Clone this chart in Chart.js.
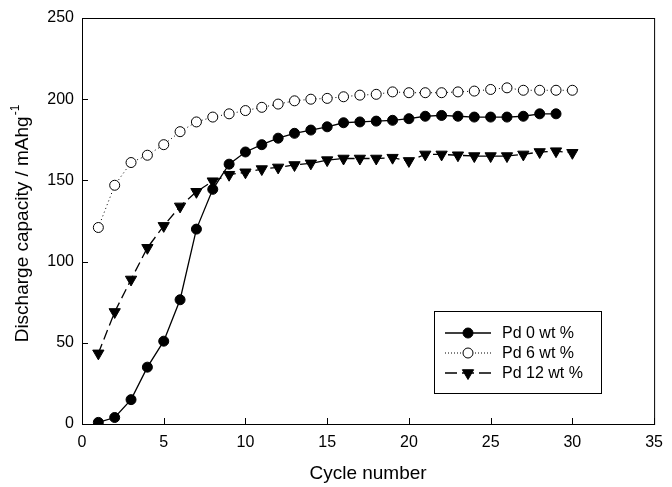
<!DOCTYPE html>
<html>
<head>
<meta charset="utf-8">
<script src="https://cdn.jsdelivr.net/npm/chart.js@4.4.0/dist/chart.umd.min.js"></script>
<style>
  html, body { margin: 0; padding: 0; background: #fff; }
  .chart-container { width: 672px; height: 487px; }
</style>
</head>
<body>
<div class="chart-container">
  <canvas id="chart"></canvas>
</div>
<script>
// values
const cycles = [1, 2, 3, 4, 5, 6, 7, 8, 9, 10, 11, 12, 13, 14, 15,
    16, 17, 18, 19, 20, 21, 22, 23, 24, 25, 26, 27, 28, 29, 30];
const pd0 = [1, 4, 15, 35, 51, 76.5, 120, 144.5, 160, 167.5, 172, 176, 179, 181, 183,
    185.5, 186, 186.5, 187, 188, 189.5, 190, 189.5, 189, 189, 189, 189.5, 191, 191];
const pd6 = [121, 147, 161, 165.5, 172, 180, 186, 189, 191, 193, 195, 197, 199, 200, 200.5,
    201.5, 202.5, 203, 204.5, 204, 204, 204, 204.5, 205, 206, 207, 205.5, 205.5, 205.5, 205.5];
const pd12 = [43.5, 69, 89, 108.5, 122, 134, 143, 149.5, 153.5, 155, 157, 158, 159.5, 160.5, 162.5,
    163.5, 163.5, 163.5, 164, 162, 166, 166, 165.5, 165, 165, 165, 166, 167.5, 168, 167];
const xTicks = [0, 5, 10, 15, 20, 25, 30, 35];
const yTicks = [0, 50, 100, 150, 200, 250];

const FONT = "'Liberation Sans', Arial, sans-serif";

const toPoints = (vals) => vals.map((v, i) => ({ x: cycles[i], y: v }));

// frame, inward ticks, y title with a real superscript, and a legend with line samples
const framePlugin = {
    id: "frame",
    afterDraw(chart) {
        const ctx = chart.ctx;
        const a = chart.chartArea;
        const xs = chart.scales.x;
        const ys = chart.scales.y;
        ctx.save();
        ctx.strokeStyle = "#000";
        ctx.lineWidth = 1;
        ctx.strokeRect(a.left + 0.5, a.top + 0.5, a.right - a.left, a.bottom - a.top);
        ctx.beginPath();
        xTicks.forEach((t) => {
            const px = Math.round(xs.getPixelForValue(t)) + 0.5;
            ctx.moveTo(px, a.bottom);
            ctx.lineTo(px, a.bottom - 6);
        });
        yTicks.forEach((t) => {
            const py = Math.round(ys.getPixelForValue(t)) + 0.5;
            ctx.moveTo(a.left, py);
            ctx.lineTo(a.left + 6, py);
        });
        ctx.stroke();

        // y axis title
        const mainText = "Discharge capacity / mAhg";
        const supText = "-1";
        ctx.save();
        ctx.translate(28, 224);
        ctx.rotate(-Math.PI / 2);
        ctx.fillStyle = "#000";
        ctx.textBaseline = "alphabetic";
        ctx.font = "19px " + FONT;
        const w1 = ctx.measureText(mainText).width;
        ctx.font = "12px " + FONT;
        const w2 = ctx.measureText(supText).width;
        const x0 = -(w1 + w2) / 2;
        ctx.font = "19px " + FONT;
        ctx.fillText(mainText, x0, 0);
        ctx.font = "12px " + FONT;
        ctx.fillText(supText, x0 + w1 + 1, -9);
        ctx.restore();

        // legend
        const bx = 434, by = 311, bw = 167, bh = 82;
        ctx.strokeRect(bx + 0.5, by + 0.5, bw, bh);
        ctx.font = "16px " + FONT;
        ctx.textBaseline = "middle";
        ctx.fillStyle = "#000";
        chart.data.datasets.forEach((ds, i) => {
            const y = 333 + i * 20;
            ctx.save();
            ctx.lineWidth = ds.borderWidth;
            ctx.setLineDash(ds.legendDash || []);
            ctx.beginPath();
            ctx.moveTo(445, y);
            ctx.lineTo(491, y);
            ctx.stroke();
            ctx.restore();
            ctx.save();
            ctx.fillStyle = ds.pointBackgroundColor;
            ctx.strokeStyle = "#000";
            ctx.lineWidth = 1;
            Chart.helpers.drawPoint(ctx, {
                pointStyle: ds.pointStyle,
                rotation: ds.pointRotation || 0,
                radius: ds.pointRadius,
                borderWidth: 1,
            }, 468, y);
            ctx.restore();
            ctx.fillText(ds.label, 502, y + 1);
        });
        ctx.restore();
    },
};

new Chart(document.getElementById("chart").getContext("2d"), {
    type: "line",
    data: {
        datasets: [
            {
                label: "Pd 0 wt %",
                data: toPoints(pd0),
                borderColor: "#000",
                borderWidth: 1.3,
                pointStyle: "circle",
                pointRadius: 5,
                pointBackgroundColor: "#000",
                pointBorderColor: "#000",
                pointBorderWidth: 1,
                tension: 0,
            },
            {
                label: "Pd 6 wt %",
                data: toPoints(pd6),
                borderColor: "#000",
                borderWidth: 1,
                borderDash: [1, 3],
                legendDash: [1, 2],
                pointStyle: "circle",
                pointRadius: 5,
                pointBackgroundColor: "#fff",
                pointBorderColor: "#000",
                pointBorderWidth: 1,
                tension: 0,
            },
            {
                label: "Pd 12 wt %",
                data: toPoints(pd12),
                borderColor: "#000",
                borderWidth: 1.3,
                borderDash: [10, 5],
                legendDash: [12, 5],
                pointStyle: "triangle",
                pointRotation: 180,
                pointRadius: 6.5,
                pointBackgroundColor: "#000",
                pointBorderColor: "#000",
                pointBorderWidth: 1,
                tension: 0,
            },
        ],
    },
    options: {
        responsive: true,
        maintainAspectRatio: false,
        animation: false,
        layout: {
            padding: { left: 0, top: 18, right: 10, bottom: 0 },
        },
        plugins: {
            legend: { display: false },
            tooltip: { enabled: false },
        },
        scales: {
            x: {
                type: "linear",
                min: 0,
                max: 35,
                afterBuildTicks: (scale) => {
                    scale.ticks = xTicks.map((v) => ({ value: v }));
                },
                afterFit: (scale) => {
                    scale.height = 63;
                },
                ticks: {
                    color: "#000",
                    font: { family: FONT, size: 16 },
                    padding: 9,
                    maxRotation: 0,
                },
                grid: { display: false, drawTicks: false },
                border: { display: false },
                title: {
                    display: true,
                    text: "Cycle number",
                    color: "#000",
                    font: { family: FONT, size: 19 },
                    padding: { top: 0, bottom: 2 },
                },
            },
            y: {
                min: 0,
                max: 250,
                afterBuildTicks: (scale) => {
                    scale.ticks = yTicks.map((v) => ({ value: v }));
                },
                afterFit: (scale) => {
                    scale.width = 82;
                },
                ticks: {
                    color: "#000",
                    font: { family: FONT, size: 16 },
                    padding: 8,
                },
                grid: { display: false, drawTicks: false },
                border: { display: false },
            },
        },
    },
    plugins: [framePlugin],
});
</script>
</body>
</html>
